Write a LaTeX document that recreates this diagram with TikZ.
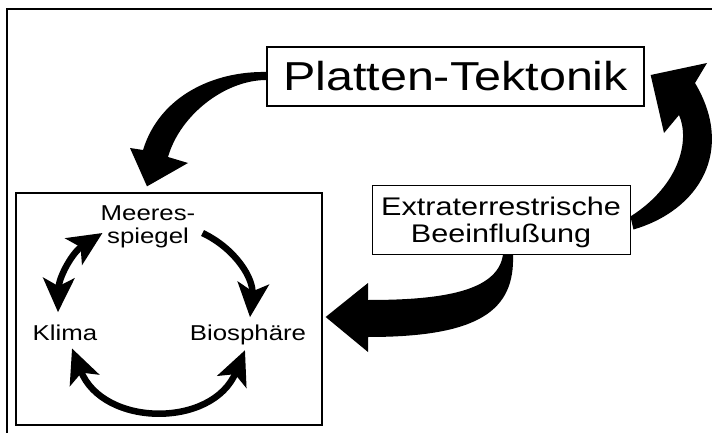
\documentclass[tikz,border=0pt]{standalone}
\usepackage{fontspec}
\setmainfont{Liberation Sans}[FakeStretch=1.2]
\usetikzlibrary{arrows.meta, calc}

\begin{document}
\begin{tikzpicture}[x=1pt, y=-1pt]
\tikzstyle{title} = [rectangle, draw=black, line width=1.3pt, minimum width=377pt, minimum height=59pt, font=\fontsize{40.4}{48}\selectfont]
\tikzstyle{source} = [rectangle, draw=black, line width=0.9pt, minimum width=258pt, minimum height=69pt, align=center, text depth=0pt, font=\fontsize{25.5}{27}\selectfont]
\tikzstyle{system} = [rectangle, draw=black, line width=1.3pt, minimum width=306pt, minimum height=232pt]
\tikzstyle{factor} = [inner sep=2pt, font=\fontsize{21.5}{23}\selectfont]
\tikzstyle{oneway} = [line width=6.5pt, -{Stealth[length=34pt, width=31pt, inset=8pt]}]
\tikzstyle{twoway} = [line width=6.5pt, {Stealth[length=34pt, width=31pt, inset=8pt]}-{Stealth[length=34pt, width=31pt, inset=8pt]}]
\tikzstyle{bigarrow} = [fill=black]

\useasboundingbox (0,0) rectangle (712,433);

% Frame
\draw[line width=1.2pt] (712,9) -- (7,9) -- (7,433);

% Boxes
\node[title] (plat) at (455.5,76.5) {Platten-Tektonik};
\node[source] (extra) at (501,219.5) {Extraterrestrische\\Beeinflußung};
\node[system] (sys) at (169,309) {};

% Inner cycle
\node[factor, align=center] (meer) at (148,226.5) {Meeres-\\spiegel};
\node[factor, anchor=base] (klima) at (65,340) {Klima};
\node[factor, anchor=base] (bio) at (248,340) {Biosphäre};

\draw[oneway] ([shift={(5,6.5)}]meer.east) to[bend left=35] ([shift={(2,-5)}]bio.north);
\draw[twoway] ([shift={(-7,-10)}]klima.north) to[bend left=28] ([shift={(4,6.5)}]meer.west);
\draw[twoway] ([shift={(7,6)}]klima.south) to[bend right=68, looseness=1.25] ([shift={(-3,3.5)}]bio.south);

% Big arrows
\fill[bigarrow] ([shift={(0,-4.5)}]plat.west) .. controls (215,71) and (160,95) .. (143,150) -- (130,148) -- ([shift={(-22,-6)}]sys.north) -- (188,163) -- (168,157) .. controls (180,115) and (225,80) .. ([shift={(0,3.5)}]plat.west) -- cycle;
\fill[bigarrow] ([shift={(3,10)}]extra.east) .. controls (700,210) and (735,150) .. (695,83) -- (707,63) -- ([shift={(6,-1.5)}]plat.east) -- (664,133) -- (679,115) .. controls (690,140) and (680,185) .. ([shift={(0,-3)}]extra.east) -- cycle;
\fill[bigarrow] ([shift={(12,0)}]extra.south) .. controls (515,310) and (480,337) .. (368,337) -- (368,352) -- ([shift={(3,8)}]sys.east) -- (368,283) -- (368,300) .. controls (440,300) and (498,292) .. ([shift={(2,0)}]extra.south) -- cycle;
\end{tikzpicture}
\end{document}
